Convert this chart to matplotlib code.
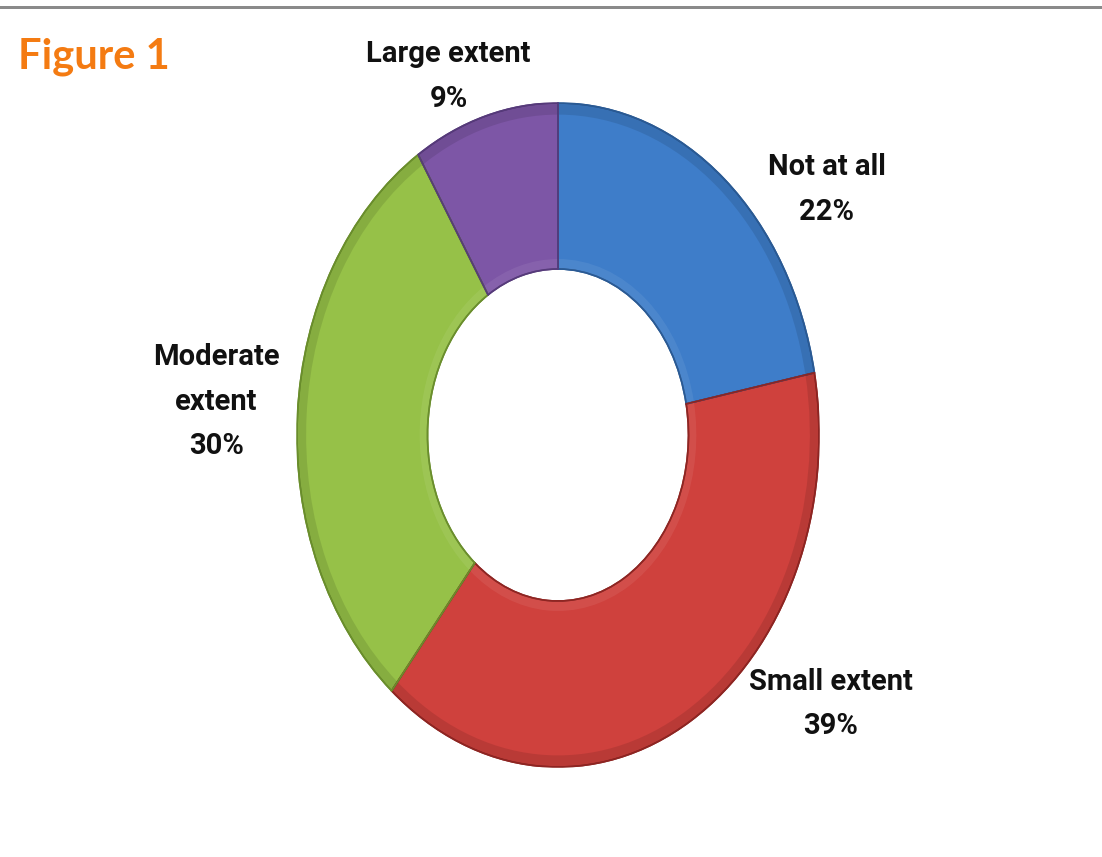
import matplotlib
matplotlib.use("Agg")
import matplotlib.pyplot as plt
from matplotlib.patches import Rectangle, Wedge
from matplotlib import font_manager

# survey answers, clockwise from 12 o'clock
labels = ["Not at all", "Small extent", "Moderate\nextent", "Large extent"]
shares = [22, 39, 30, 9]
colors = ["#3E7DC9", "#CF413D", "#96C148", "#7D56A6"]
edges = ["#2A5A94", "#8E2522", "#6A8E2C", "#563A7A"]

# where each label sits (data units of the pie axes)
label_xy = [(1.03, 0.74), (1.045, -0.81), (-1.31, 0.10), (-0.42, 1.08)]

installed = {f.name for f in font_manager.fontManager.ttflist}
narrow = [f for f in ["Liberation Sans Narrow", "Roboto", "DejaVu Sans"] if f in installed]

fig = plt.figure(figsize=(11.02, 8.57), dpi=100)
fig.patch.set_facecolor("white")

# thin grey rule along the top edge
fig.add_artist(Rectangle((0, 1 - 9 / 857), 1, 3 / 857, transform=fig.transFigure,
                         facecolor="#8A8A8A", edgecolor="none"))

fig.text(18 / 1102, 1 - 57 / 857, "Figure 1", color="#F47B12", fontsize=30,
         fontweight="bold", family=["Lato", "DejaVu Sans"], va="center", ha="left")

ax = fig.add_axes([297 / 1102, 90 / 857, 522 / 1102, 664 / 857])
wedges, _ = ax.pie(shares, colors=colors, startangle=90, counterclock=False,
                   radius=1.0, wedgeprops=dict(width=0.5, linewidth=1.2))

# soft bevel: darker rim outside, lighter lip along the hole
for w, ec in zip(wedges, edges):
    w.set_edgecolor(ec)
    t1, t2 = w.theta1, w.theta2
    for r, dw, col, a in [(1.0, 0.035, "black", 0.10), (0.53, 0.03, "white", 0.07)]:
        ax.add_patch(Wedge((0, 0), r, t1, t2, width=dw, facecolor=col,
                           alpha=a, edgecolor="none"))
    ax.add_patch(Wedge((0, 0), 1.0, t1, t2, width=0.5, facecolor="none",
                       edgecolor=ec, linewidth=1.2))

ax.set_aspect("auto")
ax.set_xlim(-1, 1)
ax.set_ylim(-1, 1)
ax.axis("off")

for lab, val, (x, y) in zip(labels, shares, label_xy):
    ax.text(x, y, f"{lab}\n{val}%", ha="center", va="center", fontsize=21,
            fontweight="bold", family=narrow, color="#111111", linespacing=1.75,
            clip_on=False)

fig.savefig("out.png", dpi=100, facecolor="white")
